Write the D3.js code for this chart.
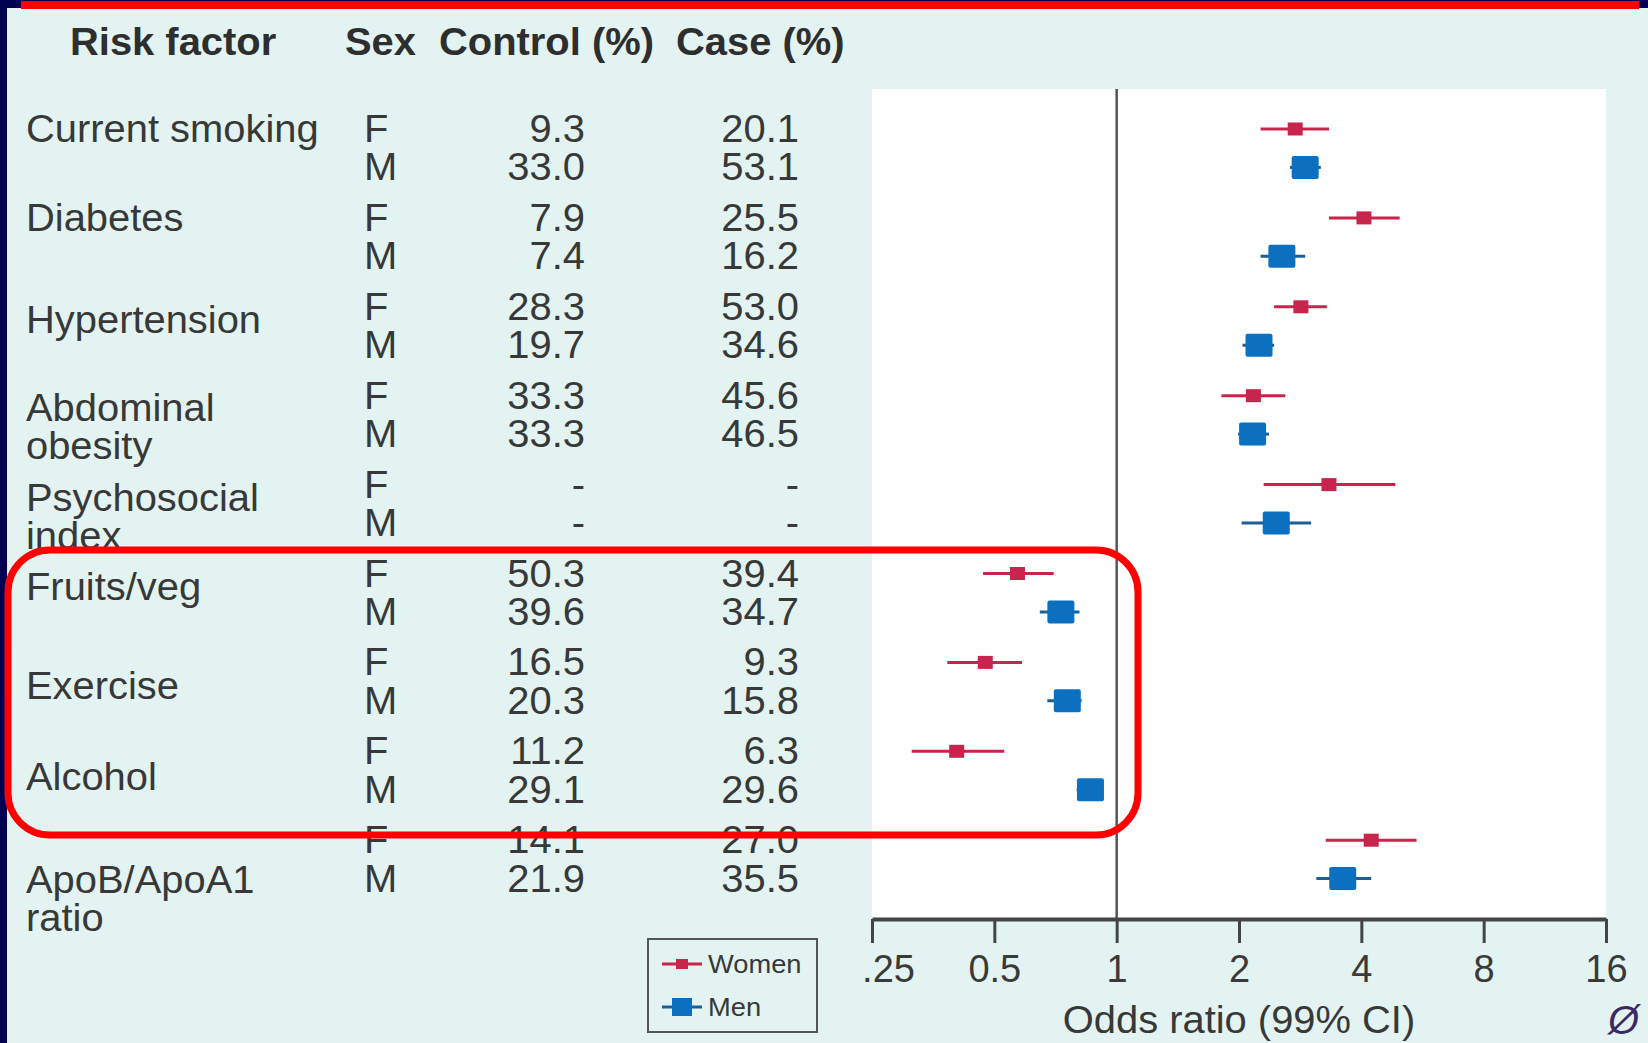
<!DOCTYPE html>
<html>
<head>
<meta charset="utf-8">
<script src="https://cdn.jsdelivr.net/npm/d3@7/dist/d3.min.js"></script>
<style>
  html, body { margin: 0; padding: 0; background: #000050; overflow: hidden; }
  svg { display: block; }
  text { font-family: "Liberation Sans", Arial, sans-serif; fill: #383838; }
</style>
</head>
<body>
<script>
// --- data ---
var factors = ["Current smoking", "Diabetes", "Hypertension", "Abdominal obesity",
  "Psychosocial index", "Fruits/veg", "Exercise", "Alcohol", "ApoB/ApoA1 ratio"];
var factorLines = [["Current smoking"], ["Diabetes"], ["Hypertension"], ["Abdominal", "obesity"],
  ["Psychosocial", "index"], ["Fruits/veg"], ["Exercise"], ["Alcohol"], ["ApoB/ApoA1", "ratio"]];

var controlF = ["9.3", "7.9", "28.3", "33.3", "-", "50.3", "16.5", "11.2", "14.1"];
var caseF    = ["20.1", "25.5", "53.0", "45.6", "-", "39.4", "9.3", "6.3", "27.0"];
var controlM = ["33.0", "7.4", "19.7", "33.3", "-", "39.6", "20.3", "29.1", "21.9"];
var caseM    = ["53.1", "16.2", "34.6", "46.5", "-", "34.7", "15.8", "29.6", "35.5"];

// odds ratios with 99% CI
var orWomen = [2.75, 4.06, 2.84, 2.17, 3.33, 0.57, 0.475, 0.404, 4.23];
var loWomen = [2.26, 3.33, 2.44, 1.81, 2.30, 0.469, 0.383, 0.313, 3.27];
var hiWomen = [3.33, 4.97, 3.29, 2.60, 4.85, 0.70, 0.585, 0.529, 5.47];
var orMen = [2.91, 2.55, 2.24, 2.16, 2.47, 0.729, 0.756, 0.862, 3.60];
var loMen = [2.67, 2.26, 2.04, 1.99, 2.03, 0.647, 0.675, 0.797, 3.10];
var hiMen = [3.18, 2.91, 2.44, 2.37, 3.01, 0.81, 0.82, 0.925, 4.23];

var tickValues = [0.25, 0.5, 1, 2, 4, 8, 16];
var tickLabels = [".25", "0.5", "1", "2", "4", "8", "16"];
var headers = ["Risk factor", "Sex", "Control (%)", "Case (%)"];

// --- layout ---
var width = 1648, height = 1043;
var fs = 38, sx = 1.05;
var sexGap = 38.4;
var labelOffset = [0, 0, 13, 12, 13, 13, 24, 26, 40]; // where each factor name sits vs its F row
var lineH = 38;
var womenColor = "#c8244c", menColor = "#0b70c0";

var svg = d3.select("body").append("svg")
    .attr("width", width)
    .attr("height", height);

// frame: navy strip, red top rule, light panel
svg.append("rect").attr("x", 7).attr("y", 8).attr("width", width - 7).attr("height", height - 8)
    .attr("fill", "#e2f3f1");
svg.append("rect").attr("x", 21).attr("y", 1).attr("width", 1618).attr("height", 8)
    .attr("fill", "#ff0000");

var y = d3.scalePoint().domain(factors).range([129, 129 + 8 * 88.9]);
var x = d3.scaleLog().base(2).domain([0.25, 16]).range([872, 1606]);

function put(sel, tx, ty, anchor) {
  return sel.attr("text-anchor", anchor || "start")
    .attr("transform", "translate(" + tx + "," + ty + ") scale(" + sx + ",1)");
}

// column headers
var headX = [70, 345, 439, 676];
headers.forEach(function(h, i){
  put(svg.append("text").text(h), headX[i], 55)
    .attr("font-size", fs).attr("font-weight", "bold").style("fill", "#2e2e2e");
});

// table body
factors.forEach(function(f, i){
  var yf = y(f), ym = yf + sexGap;
  factorLines[i].forEach(function(l, j){
    put(svg.append("text").text(l), 26, yf + labelOffset[i] + j * lineH + 13).attr("font-size", fs);
  });
  put(svg.append("text").text("F"), 364, yf + 13).attr("font-size", fs);
  put(svg.append("text").text("M"), 364, ym + 13).attr("font-size", fs);
  put(svg.append("text").text(controlF[i]), 585, yf + 13, "end").attr("font-size", fs);
  put(svg.append("text").text(controlM[i]), 585, ym + 13, "end").attr("font-size", fs);
  put(svg.append("text").text(caseF[i]), 799, yf + 13, "end").attr("font-size", fs);
  put(svg.append("text").text(caseM[i]), 799, ym + 13, "end").attr("font-size", fs);
});

// plot area
svg.append("rect").attr("x", x(0.25)).attr("y", 89)
    .attr("width", x(16) - x(0.25)).attr("height", 830)
    .attr("fill", "#ffffff");
svg.append("line")
    .attr("x1", x(1)).attr("x2", x(1)).attr("y1", 89).attr("y2", 919)
    .attr("stroke", "#555").attr("stroke-width", 2.5);

var axis = svg.append("g")
    .attr("transform", "translate(0,919)")
    .call(d3.axisBottom(x).tickValues(tickValues).tickSize(24).tickSizeOuter(0).tickPadding(12)
      .tickFormat(function(d, i){ return tickLabels[i]; }));
axis.select(".domain").attr("stroke", "#444").attr("stroke-width", 4);
axis.selectAll(".tick line").attr("stroke", "#444").attr("stroke-width", 3);
axis.selectAll(".tick text").attr("font-size", fs).attr("font-family", "Liberation Sans, Arial, sans-serif")
    .style("fill", "#3a3a3a")
    .attr("dx", function(d, i){ return i == 0 ? 16 : 0; });

put(svg.append("text").text("Odds ratio (99% CI)"), (x(0.25) + x(16)) / 2, 1033, "middle")
    .attr("font-size", fs);

// CIs and point estimates
var rows = factors.map(function(f, i){ return i; });
svg.selectAll(".ciw").data(rows).enter().append("line")
    .attr("x1", function(i){ return x(loWomen[i]); })
    .attr("x2", function(i){ return x(hiWomen[i]); })
    .attr("y1", function(i){ return y(factors[i]); })
    .attr("y2", function(i){ return y(factors[i]); })
    .attr("stroke", womenColor).attr("stroke-width", 3);
svg.selectAll(".ptw").data(rows).enter().append("rect")
    .attr("x", function(i){ return x(orWomen[i]) - 7.5; })
    .attr("y", function(i){ return y(factors[i]) - 6.5; })
    .attr("width", 15).attr("height", 13)
    .attr("fill", womenColor);
svg.selectAll(".cim").data(rows).enter().append("line")
    .attr("x1", function(i){ return x(loMen[i]); })
    .attr("x2", function(i){ return x(hiMen[i]); })
    .attr("y1", function(i){ return y(factors[i]) + sexGap; })
    .attr("y2", function(i){ return y(factors[i]) + sexGap; })
    .attr("stroke", "#1a5f96").attr("stroke-width", 3);
svg.selectAll(".ptm").data(rows).enter().append("rect")
    .attr("x", function(i){ return x(orMen[i]) - 13.5; })
    .attr("y", function(i){ return y(factors[i]) + sexGap - 11.5; })
    .attr("width", 27).attr("height", 23).attr("rx", 2)
    .attr("fill", menColor);

// legend
var lg = svg.append("g");
lg.append("rect").attr("x", 648).attr("y", 939).attr("width", 169).attr("height", 93)
    .attr("fill", "none").attr("stroke", "#555").attr("stroke-width", 2);
[["Women", womenColor, 12, 10, 964], ["Men", menColor, 20, 18, 1007]].forEach(function(d){
  lg.append("line").attr("x1", 662).attr("x2", 702).attr("y1", d[4]).attr("y2", d[4])
      .attr("stroke", d[0] == "Men" ? "#1a5f96" : womenColor).attr("stroke-width", 3);
  lg.append("rect").attr("x", 682 - d[2] / 2).attr("y", d[4] - d[3] / 2)
      .attr("width", d[2]).attr("height", d[3]).attr("fill", d[1]);
  put(lg.append("text").text(d[0]), 708, d[4] + 9).attr("font-size", 26);
});

// little logo in the corner
svg.append("text").text("Ø").attr("x", 1608).attr("y", 1034)
    .attr("font-size", 40).attr("font-style", "italic").style("fill", "#3b2a66");

// red call-out box
svg.append("rect").attr("x", 8).attr("y", 550).attr("width", 1130).attr("height", 285)
    .attr("rx", 42).attr("fill", "none").attr("stroke", "#ff0000").attr("stroke-width", 7);
</script>
</body>
</html>
